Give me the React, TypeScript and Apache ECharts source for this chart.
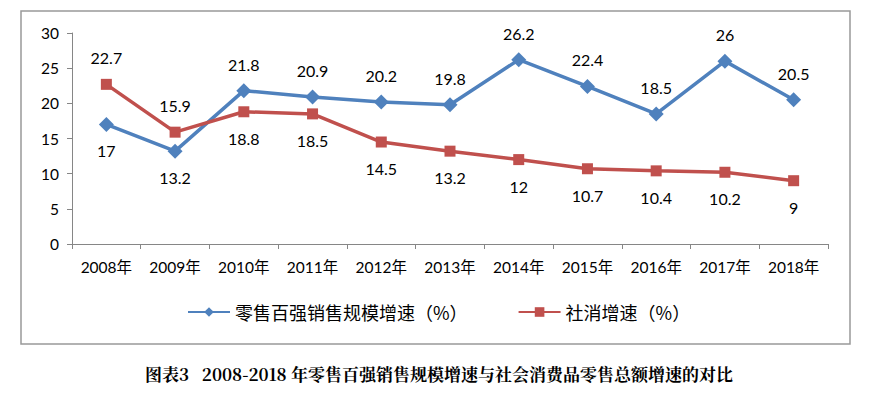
import React, { useEffect, useRef } from "react";
import * as echarts from "echarts";

const categories = ["2008年", "2009年", "2010年", "2011年", "2012年", "2013年", "2014年", "2015年", "2016年", "2017年", "2018年"];
const retailTop100 = [17, 13.2, 21.8, 20.9, 20.2, 19.8, 26.2, 22.4, 18.5, 26, 20.5];
const socialRetail = [22.7, 15.9, 18.8, 18.5, 14.5, 13.2, 12, 10.7, 10.4, 10.2, 9];
const seriesNames = ["零售百强销售规模增速（%）", "社消增速（%）"];
const caption = "图表3   2008-2018 年零售百强销售规模增速与社会消费品零售总额增速的对比";

export default function App() {
  const ref = useRef<HTMLDivElement>(null);
  useEffect(() => {
    const chart = echarts.init(ref.current!, null, { renderer: "svg" });
    const labelFont = { fontFamily: "Lato, 'Open Sans', sans-serif", fontSize: 16, color: "#000" };
    const blueData = retailTop100.map((v, i) => ({
      value: v,
      label: { position: v >= socialRetail[i] ? "top" : "bottom" },
    }));
    const redData = socialRetail.map((v, i) => ({
      value: v,
      label: { position: v > retailTop100[i] ? "top" : "bottom" },
    }));
    chart.setOption({
      animation: false,
      backgroundColor: "#fff",
      grid: { left: 72, right: 42, top: 33, bottom: 152 },
      legend: {
        top: 298,
        left: 182,
        itemGap: 50,
        itemWidth: 42,
        itemHeight: 12,
        textStyle: { fontFamily: "'Noto Sans CJK SC', sans-serif", fontSize: 18, color: "#000" },
        data: seriesNames,
      },
      xAxis: {
        type: "category",
        data: categories,
        boundaryGap: true,
        axisLine: { lineStyle: { color: "#868686", width: 1 } },
        axisTick: { show: true, length: 5, lineStyle: { color: "#868686" } },
        axisLabel: {
          margin: 15,
          fontFamily: "Lato, 'Noto Sans CJK SC', sans-serif",
          fontSize: 15.5,
          color: "#000",
        },
      },
      yAxis: {
        type: "value",
        min: 0,
        max: 30,
        interval: 5,
        axisLine: { show: true, lineStyle: { color: "#868686", width: 1 } },
        axisTick: { show: true, length: 5, lineStyle: { color: "#868686" } },
        splitLine: { show: false },
        axisLabel: { margin: 13, fontFamily: "Lato, sans-serif", fontSize: 15.5, color: "#000" },
      },
      series: [
        {
          name: seriesNames[0],
          type: "line",
          data: blueData,
          symbol: "diamond",
          symbolSize: 15,
          lineStyle: { color: "#4F81BD", width: 3.5 },
          itemStyle: { color: "#4F81BD" },
          label: { show: true, distance: 11, ...labelFont },
        },
        {
          name: seriesNames[1],
          type: "line",
          data: redData,
          symbol: "rect",
          symbolSize: 11,
          lineStyle: { color: "#C0504D", width: 3.5 },
          itemStyle: { color: "#C0504D" },
          label: { show: true, distance: 13, ...labelFont },
        },
      ],
      graphic: [
        {
          type: "rect",
          shape: { x: 21, y: 11, width: 829, height: 333 },
          style: { fill: "none", stroke: "#999", lineWidth: 1.5 },
          silent: true,
          z: -1,
        },
        {
          type: "text",
          x: 439,
          y: 373,
          style: {
            text: caption,
            fontFamily: "'Noto Serif CJK SC', 'Noto Sans CJK SC', serif",
            fontWeight: "bold",
            fontSize: 17,
            fill: "#000",
            align: "center",
            verticalAlign: "middle",
          },
        },
      ],
    });
    return () => chart.dispose();
  }, []);
  return <div ref={ref} style={{ width: 870, height: 396, margin: -8 }} />;
}
